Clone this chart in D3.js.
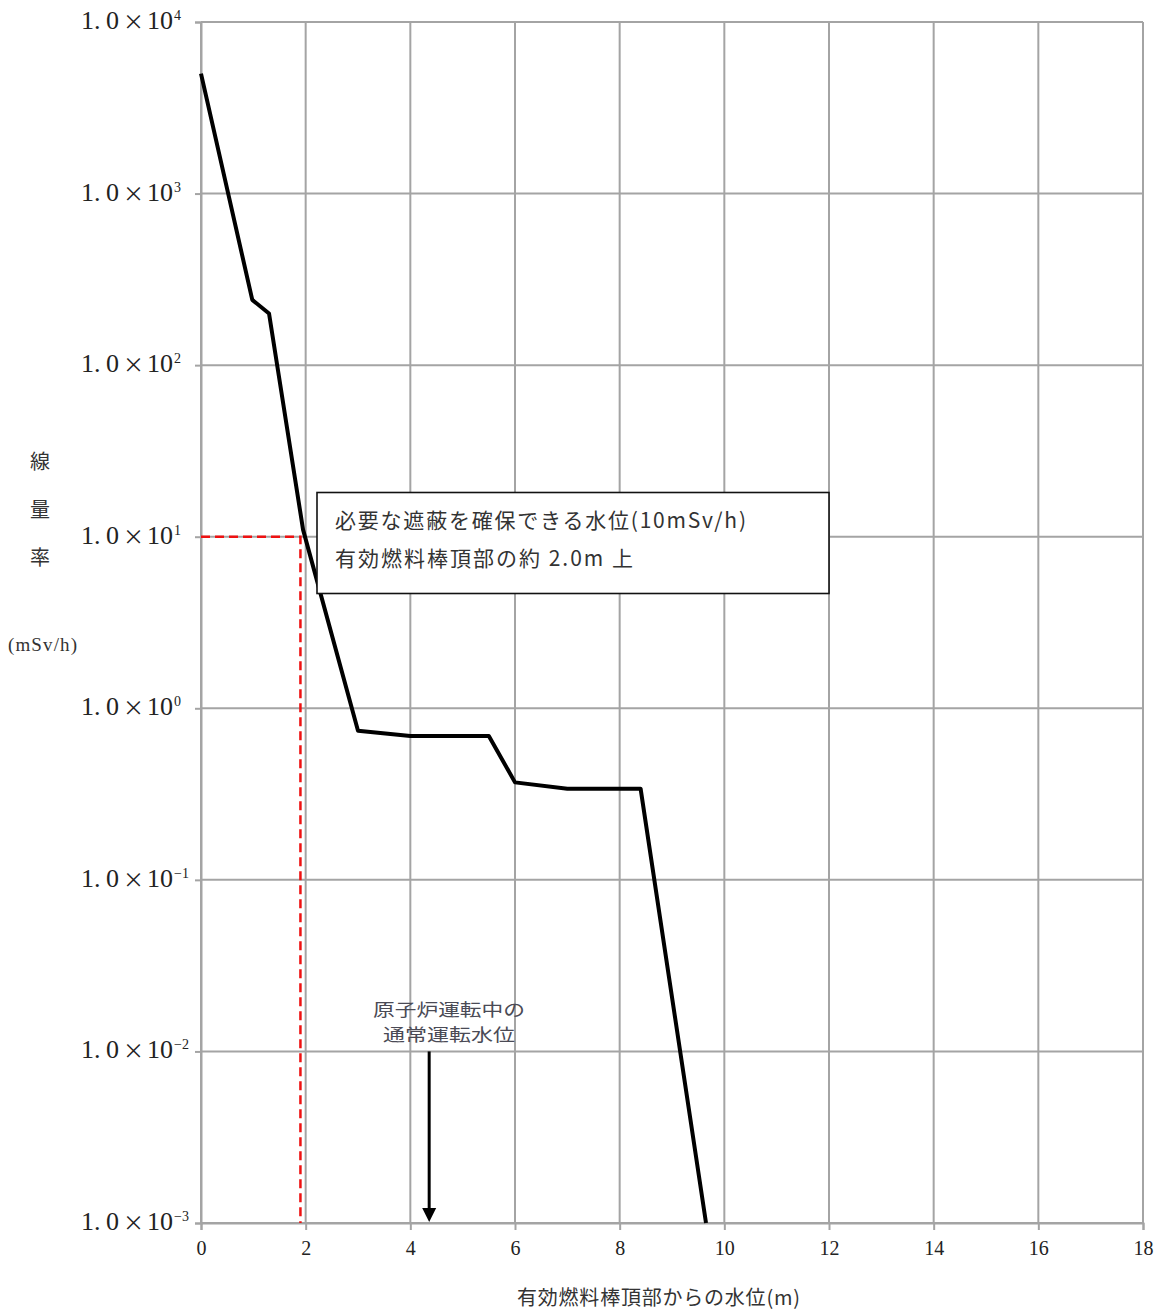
<!DOCTYPE html>
<html>
<head>
<meta charset="utf-8">
<script src="https://cdn.jsdelivr.net/npm/d3@7"></script>
<style>
  html, body { margin: 0; padding: 0; background: #fff; }
  svg { display: block; }
</style>
</head>
<body>
<svg id="chart" width="1160" height="1312"></svg>
<script>
// Water level above the top of active fuel (m) and dose rate (mSv/h)
const waterLevels = [0, 0.98, 1.3, 1.95, 3.0, 4.0, 5.5, 6.0, 7.0, 8.4, 9.65];
const doseRates   = [5000, 240, 200, 11, 0.74, 0.69, 0.69, 0.37, 0.34, 0.34, 0.001];

// Axis ticks
const xTicks = [0, 2, 4, 6, 8, 10, 12, 14, 16, 18];
const yExponents = [4, 3, 2, 1, 0, -1, -2, -3];
const yExponentLabels = ["4", "3", "2", "1", "0", "-1", "-2", "-3"];

// Shielding threshold and normal operating level
const requiredDose = [10];
const requiredLevel = [1.9];
const normalLevel = [4.36];
const normalArrowTop = [0.01];

const calloutLines = ["必要な遮蔽を確保できる水位(10mSv/h)", "有効燃料棒頂部の約 2.0m 上"];
const normalLevelLines = ["原子炉運転中の", "通常運転水位"];
const yTitleChars = ["線", "量", "率"];
const yUnit = "(mSv/h)";
const xTitle = "有効燃料棒頂部からの水位(m)";

const svg = d3.select("#chart");
const plot = { left: 201, right: 1143, top: 22, bottom: 1223 };

const x = d3.scaleLinear().domain([0, 18]).range([plot.left, plot.right]);
const y = d3.scaleLog().domain([1e-3, 1e4]).range([plot.bottom, plot.top]);

const gridColor = "#a4a4a4";
const serif = "'Liberation Serif', 'DejaVu Serif', serif";
const cjk = "'Noto Sans CJK JP', 'Noto Sans', sans-serif";

// Vertical grid lines
svg.append("g")
  .selectAll("line").data(xTicks).join("line")
  .attr("x1", d => x(d)).attr("x2", d => x(d))
  .attr("y1", plot.top).attr("y2", plot.bottom)
  .attr("stroke", gridColor).attr("stroke-width", 2);

// Horizontal grid lines
svg.append("g")
  .selectAll("line").data(yExponents).join("line")
  .attr("x1", plot.left).attr("x2", plot.right)
  .attr("y1", d => y(Math.pow(10, d))).attr("y2", d => y(Math.pow(10, d)))
  .attr("stroke", gridColor).attr("stroke-width", 2);

// Bottom axis with ticks
const xAxis = svg.append("g")
  .attr("transform", `translate(0,${plot.bottom})`)
  .call(d3.axisBottom(x).tickValues(xTicks).tickSize(7).tickFormat(""));
xAxis.select(".domain").attr("stroke", gridColor).attr("stroke-width", 2);
xAxis.selectAll(".tick line").attr("stroke", gridColor).attr("stroke-width", 2);

xAxis.selectAll(".tick").append("text")
  .attr("y", 32)
  .attr("fill", "#222")
  .attr("font-family", serif)
  .attr("font-size", 20)
  .attr("text-anchor", "middle")
  .text(d => d);

// Left axis with ticks
const yAxis = svg.append("g")
  .attr("transform", `translate(${plot.left},0)`)
  .call(d3.axisLeft(y).tickValues(yExponents.map(e => Math.pow(10, e))).tickSize(6).tickFormat(""));
yAxis.select(".domain").attr("stroke", gridColor).attr("stroke-width", 2);
yAxis.selectAll(".tick line").attr("stroke", gridColor).attr("stroke-width", 2);

const yLab = svg.append("g");
yExponents.forEach((e, i) => {
  const yy = y(Math.pow(10, e));
  const row = yLab.append("text")
    .attr("x", 81).attr("y", yy + 7)
    .attr("font-family", serif).attr("font-size", 26).attr("fill", "#222");
  row.append("tspan").text("1.");
  row.append("tspan").attr("x", 106).text("0");
  row.append("tspan").attr("x", 123).attr("font-family", cjk).attr("font-size", 21).text("×");
  row.append("tspan").attr("x", 147).attr("font-family", serif).attr("font-size", 26).text("10");
  yLab.append("text")
    .attr("x", 174).attr("y", yy - 2)
    .attr("font-family", serif).attr("font-size", 14).attr("fill", "#222")
    .text(yExponentLabels[i].replace("-", "−"));
});

// Dashed guide at the required dose rate
const guide = [
  [x(0), y(requiredDose[0])],
  [x(requiredLevel[0]), y(requiredDose[0])],
  [x(requiredLevel[0]), y(1e-3)]
];
svg.append("path")
  .attr("d", d3.line()(guide))
  .attr("fill", "none")
  .attr("stroke", "#ee1111")
  .attr("stroke-width", 2.5)
  .attr("stroke-dasharray", "9,5");

// Dose rate curve
const pts = waterLevels.map((w, i) => [w, doseRates[i]]);
svg.append("path")
  .datum(pts)
  .attr("d", d3.line().x(d => x(d[0])).y(d => y(d[1])))
  .attr("fill", "none")
  .attr("stroke", "#000")
  .attr("stroke-width", 4)
  .attr("stroke-linejoin", "round");

// Callout box
const box = svg.append("g");
box.append("rect")
  .attr("x", 317).attr("y", 492.5)
  .attr("width", 512).attr("height", 101)
  .attr("fill", "#fff").attr("stroke", "#111").attr("stroke-width", 1.6);
box.append("text")
  .attr("x", 335).attr("y", 528)
  .attr("font-family", cjk).attr("font-size", 21).attr("fill", "#333")
  .attr("textLength", 411).attr("lengthAdjust", "spacing")
  .text(calloutLines[0]);
box.append("text")
  .attr("x", 335).attr("y", 566)
  .attr("font-family", cjk).attr("font-size", 21).attr("fill", "#333")
  .attr("textLength", 298).attr("lengthAdjust", "spacing")
  .text(calloutLines[1]);

// Normal operating water level arrow
const ax = x(normalLevel[0]);
svg.append("line")
  .attr("x1", ax).attr("x2", ax)
  .attr("y1", y(normalArrowTop[0])).attr("y2", plot.bottom - 12)
  .attr("stroke", "#000").attr("stroke-width", 3);
svg.append("path")
  .attr("d", `M${ax - 7},${plot.bottom - 15} L${ax + 7},${plot.bottom - 15} L${ax},${plot.bottom - 1} Z`)
  .attr("fill", "#000");
const normalWidths = [152, 132];
normalLevelLines.forEach((t, i) => {
  svg.append("text")
    .attr("x", 449 - normalWidths[i] / 2).attr("y", 1015.5 + i * 25.5)
    .attr("font-family", cjk).attr("font-size", 17.5).attr("fill", "#4a4a55")
    .attr("textLength", normalWidths[i]).attr("lengthAdjust", "spacingAndGlyphs")
    .text(t);
});

// Y-axis title
yTitleChars.forEach((c, i) => {
  svg.append("text")
    .attr("x", 40).attr("y", 469 + i * 48)
    .attr("text-anchor", "middle")
    .attr("font-family", cjk).attr("font-size", 20).attr("fill", "#333")
    .text(c);
});
svg.append("text")
  .attr("x", 8).attr("y", 651)
  .attr("font-family", serif).attr("font-size", 19).attr("fill", "#333")
  .attr("textLength", 69).attr("lengthAdjust", "spacing")
  .text(yUnit);

// X-axis title
svg.append("text")
  .attr("x", 517).attr("y", 1305)
  .attr("font-family", cjk).attr("font-size", 20).attr("fill", "#333")
  .attr("textLength", 283).attr("lengthAdjust", "spacing")
  .text(xTitle);
</script>
</body>
</html>
